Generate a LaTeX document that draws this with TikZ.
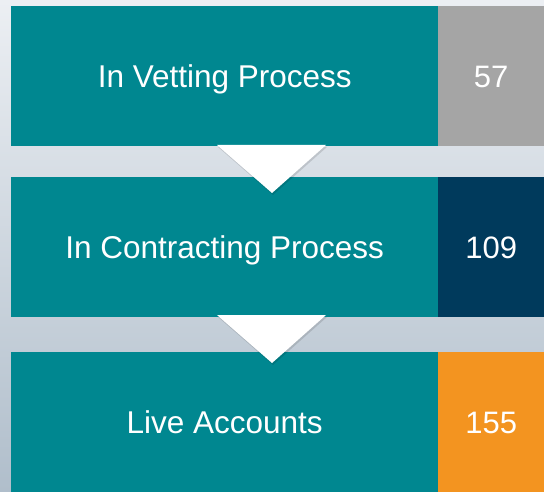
\documentclass[tikz,border=0pt]{standalone}
\usepackage{fontspec}
\setmainfont{Liberation Sans}
\definecolor{bgtop}{RGB}{236,239,243}
\definecolor{bgbot}{RGB}{176,190,203}
\definecolor{tealbox}{RGB}{0,135,144}
\definecolor{graybox}{RGB}{165,165,165}
\definecolor{navybox}{RGB}{0,58,92}
\definecolor{orangebox}{RGB}{243,148,32}
\begin{document}
\begin{tikzpicture}[x=1pt,y=-1pt,
  stage/.style={fill=tealbox,text=white,draw=none,inner sep=0pt,anchor=north west,
    minimum width=427pt,minimum height=140pt,text height=22.5pt,text depth=0pt,
    font=\fontsize{31.5}{36}\selectfont},
  count/.style={text=white,draw=none,inner sep=0pt,anchor=north west,
    minimum width=106pt,minimum height=140pt,text height=22.5pt,text depth=0pt,
    font=\fontsize{31}{36}\selectfont},
  arrowtri/.style={fill=white,draw=none},
  arrowshadow/.style={fill=black,opacity=0.12,draw=none}]
\useasboundingbox (0,0) rectangle (544,492);
\shade[top color=bgtop,bottom color=bgbot] (0,0) rectangle (544,492);
% rows
\node[stage] (s1) at (11,6) {In Vetting Process};
\node[count,fill=graybox] (n1) at (438,6) {57};
\node[stage] (s2) at (11,177) {In Contracting Process};
\node[count,fill=navybox] (n2) at (438,177) {109};
\node[stage] (s3) at (11,352) {Live Accounts};
\node[count,fill=orangebox] (n3) at (438,352) {155};
% arrows between stages
\coordinate (a1l) at (217,145);
\coordinate (a1r) at (326,145);
\coordinate (a1t) at (272,193);
\coordinate (a2l) at (217,315);
\coordinate (a2r) at (326,315);
\coordinate (a2t) at (272,363);
\fill[arrowshadow] ([shift={(1,2)}]a1l) -- ([shift={(1,2)}]a1r) -- ([shift={(1,2)}]a1t) -- cycle;
\fill[arrowtri] (a1l) -- (a1r) -- (a1t) -- cycle;
\fill[arrowshadow] ([shift={(1,2)}]a2l) -- ([shift={(1,2)}]a2r) -- ([shift={(1,2)}]a2t) -- cycle;
\fill[arrowtri] (a2l) -- (a2r) -- (a2t) -- cycle;
\end{tikzpicture}
\end{document}
